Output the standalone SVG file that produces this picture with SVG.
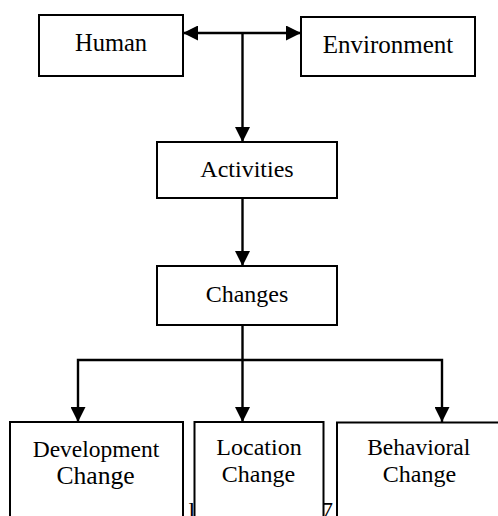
<svg xmlns="http://www.w3.org/2000/svg" width="498" height="516" viewBox="0 0 498 516">
<style>
.box{fill:#fff;stroke:#000;stroke-width:2}
.t{font-family:"Liberation Serif","Times New Roman",serif;font-size:24px;fill:#000;text-anchor:middle}
.c{fill:none;stroke:#000;stroke-width:2.4}
</style>
<defs>
<marker id="ah" viewBox="0 0 10 10" refX="10" refY="5" markerUnits="userSpaceOnUse" markerWidth="15" markerHeight="15" orient="auto-start-reverse">
<path d="M0,0 L10,5 L0,10 Z" fill="#000"/>
</marker>
</defs>
<text class="t" x="191.5" y="519" style="text-anchor:start" dx="-3">l</text>
<text class="t" x="321" y="518" style="text-anchor:start">7</text>
<g id="connectors">
<path class="c" d="M183,33 L301,33" marker-start="url(#ah)" marker-end="url(#ah)"/>
<path class="c" d="M242.5,33 L242.5,142"  marker-end="url(#ah)"/>
<path class="c" d="M242.5,189 L242.5,266" marker-end="url(#ah)"/>
<path class="c" d="M242.5,313 L242.5,422" marker-end="url(#ah)"/>
<path class="c" d="M78,422 L78,360 L442,360 L442,422" marker-start="url(#ah)" marker-end="url(#ah)"/>
</g>
<g id="human"><rect class="box" x="39" y="15" width="144" height="61"/><text class="t" x="111" y="50.7" style="font-size:24.5px">Human</text></g>
<g id="environment"><rect class="box" x="301" y="17" width="174" height="59"/><text class="t" x="388" y="53.3" style="font-size:25px">Environment</text></g>
<g id="activities"><rect class="box" x="157" y="142" width="180" height="56"/><text class="t" x="247" y="177.3">Activities</text></g>
<g id="changes"><rect class="box" x="157" y="266" width="180" height="59"/><text class="t" x="247" y="301.7">Changes</text></g>
<g id="development"><rect class="box" x="10" y="422" width="173" height="110"/><text class="t" x="96" y="456.7" style="font-size:23.5px">Development</text><text class="t" x="95.5" y="484.3" style="font-size:25.6px">Change</text></g>
<g id="location"><rect class="box" x="194.5" y="422" width="129" height="110"/><text class="t" x="259" y="455">Location</text><text class="t" x="258.5" y="481.7">Change</text></g>
<g id="behavioral"><rect class="box" x="337" y="422.5" width="175" height="110"/><text class="t" x="418.7" y="455" style="font-size:23.5px">Behavioral</text><text class="t" x="419.5" y="481.7">Change</text></g>
</svg>
